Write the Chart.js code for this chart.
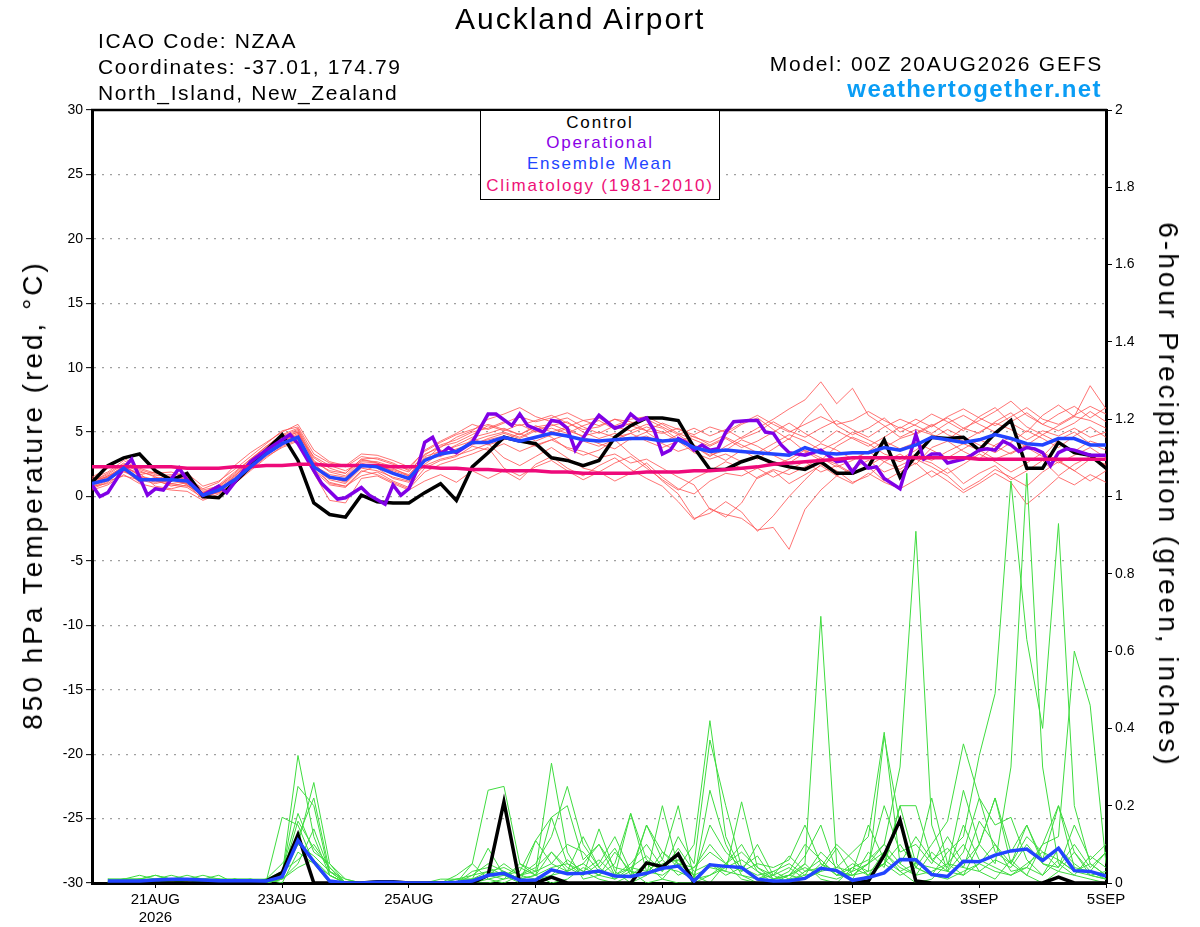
<!DOCTYPE html>
<html>
<head>
<meta charset="utf-8">
<script src="https://cdn.jsdelivr.net/npm/chart.js@4.4.1/dist/chart.umd.min.js"></script>
<style>
body{margin:0;background:#fff;}
#wrap{position:relative;width:1200px;height:927px;font-family:"Liberation Sans",Arial,sans-serif;color:#000;}
#c{position:absolute;left:0;top:0;}
.t{position:absolute;white-space:nowrap;line-height:1;}
.hdr{font-size:21px;letter-spacing:1.6px;left:98px;}
#legend{position:absolute;left:480px;top:110px;width:238px;height:88px;border:1.5px solid #000;background:#fff;}
#legend div{position:absolute;left:0;width:238px;text-align:center;font-size:17px;letter-spacing:1.8px;line-height:1;}
.ax{position:absolute;font-size:28px;letter-spacing:3px;white-space:nowrap;line-height:1;}
</style>
</head>
<body>
<div id="wrap">
<canvas id="c" width="1200" height="927"></canvas>
<div class="t" style="left:455px;top:4px;font-size:30px;letter-spacing:2px;">Auckland Airport</div>
<div class="t hdr" style="top:30px;">ICAO Code: NZAA</div>
<div class="t hdr" style="top:56px;">Coordinates: -37.01, 174.79</div>
<div class="t hdr" style="top:82px;">North_Island, New_Zealand</div>
<div class="t" style="right:97px;top:53px;font-size:21px;letter-spacing:1.75px;">Model: 00Z 20AUG2026 GEFS</div>
<div class="t" style="right:98px;top:77px;font-size:24px;letter-spacing:1.4px;font-weight:bold;color:#0a9df5;">weathertogether.net</div>
<div id="legend">
<div style="top:3px;color:#000;">Control</div>
<div style="top:23px;color:#8a00e6;">Operational</div>
<div style="top:44px;color:#2244ff;">Ensemble Mean</div>
<div style="top:66px;color:#ee1177;">Climatology (1981-2010)</div>
</div>
<div class="ax" style="left:33px;top:495px;transform:translate(-50%,-50%) rotate(-90deg);">850 hPa Temperature (red, °C)</div>
<div class="ax" style="left:1168px;top:495px;transform:translate(-50%,-50%) rotate(90deg);">6-hour Precipitation (green, inches)</div>
</div>
<script>
// time axis: hours after 00Z 20AUG2026, 6-hourly steps
const tickHours = [24, 72, 120, 168, 216, 288, 336, 384]
const tickLabels = [["21AUG", "2026"], "23AUG", "25AUG", "27AUG", "29AUG", "1SEP", "3SEP", "5SEP"]

// 850 hPa temperature (C), 6-hourly, 65 values
const controlTemp = [
1.1,2.4,3.0,3.3,2.0,1.3,1.8,0.0,-0.1,1.1,2.3,3.6,4.8,
2.8,-0.5,-1.4,-1.6,0.1,-0.4,-0.5,-0.5,0.3,1.0,-0.3,2.3,3.4,
4.6,4.3,4.1,3.0,2.8,2.4,2.8,4.6,5.5,6.1,6.1,5.9,3.8,
2.1,2.1,2.7,3.1,2.6,2.3,2.1,2.7,1.8,1.8,2.3,4.4,1.5,
3.2,4.6,4.5,4.6,3.6,4.9,5.9,2.2,2.2,4.2,3.4,3.2,2.2]
const meanTemp = [
1.0,1.3,2.2,1.3,1.3,1.3,1.2,0.1,0.5,1.3,2.3,3.3,4.1,
4.6,2.3,1.5,1.3,2.4,2.3,1.8,1.4,2.8,3.3,3.5,4.2,4.2,
4.6,4.3,4.6,4.9,4.7,4.4,4.3,4.4,4.5,4.5,4.3,4.4,3.8,
3.5,3.6,3.5,3.4,3.3,3.2,3.8,3.4,3.3,3.4,3.4,3.8,3.6,
4.0,4.6,4.4,4.2,4.4,4.8,4.5,4.1,4.0,4.5,4.5,4.0,4.0]
const climTemp = [
2.3,2.3,2.3,2.3,2.3,2.3,2.2,2.2,2.2,2.3,2.3,2.4,2.4,
2.5,2.5,2.4,2.4,2.4,2.4,2.3,2.3,2.3,2.2,2.2,2.1,2.1,
2.0,2.0,2.0,1.9,1.9,1.8,1.8,1.8,1.8,1.9,1.9,1.9,2.0,
2.0,2.1,2.2,2.3,2.5,2.6,2.7,2.8,2.9,3.0,3.0,3.0,3.0,
3.0,3.0,3.0,3.0,2.9,2.9,2.9,2.9,2.9,2.9,2.9,2.9,2.9]

// operational run is 3-hourly at the vertices
const opHours = [0,3,6,12,15,18,21,24,27,33,
36,42,48,51,60,66,75,78,84,87,
93,96,102,105,111,114,117,120,123,126,
129,132,135,138,144,150,153,159,162,165,
171,174,177,180,183,189,192,198,201,204,
207,210,213,216,219,222,225,228,231,234,
237,240,243,249,252,255,258,261,264,270,
276,282,285,288,291,294,297,300,306,312,
315,318,321,324,330,333,336,339,342,345,
348,351,354,357,360,363,366,369,372,378,
384]
const opTemp = [0.9,0.0,0.3,2.2,2.9,1.5,0.1,0.6,0.5,2.2,
1.3,0.1,0.8,0.3,2.7,3.6,4.8,4.1,2.0,1.0,
-0.2,-0.1,0.7,0.1,-0.6,0.9,0.1,0.6,2.0,4.2,
4.6,3.3,3.8,3.4,4.2,6.4,6.4,5.5,6.4,5.5,
5.0,5.9,5.8,5.3,3.6,5.5,6.3,5.3,5.5,6.4,
5.9,6.1,5.1,3.3,3.6,4.5,4.2,3.6,4.0,3.6,
3.7,5.0,5.8,5.9,5.9,5.0,4.9,4.0,3.4,3.2,
3.6,2.7,2.8,1.9,2.8,2.2,2.3,1.4,0.6,4.8,
2.9,3.3,3.3,2.6,2.9,3.2,3.6,3.7,3.6,4.3,
4.0,3.5,3.8,3.7,3.4,2.4,3.4,3.7,3.6,3.2,
3.2]

// ensemble members, temperature
const tempMembers = [
[1.2,1.8,2.6,2.0,1.5,1.0,0.8,0.3,0.9,1.9,2.9,3.9,4.8,
 5.3,3.0,2.2,1.8,2.9,3.0,2.6,2.0,3.2,4.0,4.4,5.0,5.3,
 5.8,5.5,5.9,6.3,5.7,5.2,5.4,6.0,5.8,5.1,4.9,5.3,4.6,
 4.2,4.8,5.6,6.1,5.2,4.4,6.0,7.2,5.5,4.8,5.3,6.1,5.0,
 5.6,6.4,5.8,5.1,6.2,6.9,5.7,5.0,6.3,7.1,6.2,8.6,6.8],
[0.8,1.0,1.9,1.5,1.1,1.4,0.9,0.0,0.3,1.0,2.0,3.0,3.9,
 4.4,2.5,1.0,0.8,1.6,1.9,1.2,0.7,2.2,2.8,3.1,3.9,3.6,
 4.1,3.5,4.0,4.4,3.8,3.5,3.0,3.3,2.6,2.9,2.2,1.5,0.9,
 -1.0,-1.4,-1.7,-2.6,-2.4,-4.1,-1.0,0.5,1.6,2.2,2.8,1.9,2.4,
 3.0,2.6,1.8,2.5,3.3,2.7,1.9,2.6,3.4,2.8,2.0,2.9,2.5],
[1.5,2.2,3.0,2.2,1.8,1.9,1.5,0.6,1.1,2.4,3.4,4.2,5.0,
 5.6,3.6,2.7,2.4,3.3,3.2,2.8,2.3,3.5,4.2,4.8,5.2,5.6,
 5.2,4.8,5.5,5.0,5.4,5.9,6.1,5.4,5.1,5.6,5.3,4.4,3.9,
 3.1,3.9,4.6,5.3,6.0,6.8,7.5,8.9,7.2,8.4,6.3,5.5,4.6,
 5.2,4.8,4.4,5.3,4.9,5.8,6.5,5.4,4.8,5.5,6.2,5.9,5.3],
[0.6,1.1,2.3,1.8,0.8,0.6,0.9,-0.2,0.4,1.6,2.6,3.6,4.5,
 5.0,2.0,0.9,0.7,1.9,2.4,2.0,1.6,3.0,3.1,3.7,4.0,4.5,
 4.9,4.5,5.1,4.6,3.7,3.2,3.6,4.4,3.3,2.4,1.2,0.2,-1.7,
 -1.3,-0.4,-1.2,-2.7,-1.5,0.0,1.3,2.5,2.0,1.1,1.6,2.7,3.3,
 2.5,3.8,4.3,3.5,2.9,4.0,4.6,3.8,3.1,4.4,5.0,4.1,3.6],
[1.1,1.6,2.1,1.1,1.5,1.2,1.6,0.4,0.6,1.5,2.5,3.5,4.3,
 4.9,2.4,1.7,1.5,2.6,2.2,1.4,1.1,2.7,3.6,3.3,4.5,4.0,
 4.4,4.9,4.3,4.8,5.3,4.6,4.1,3.7,4.5,5.0,4.2,4.8,4.0,
 3.4,2.8,3.6,2.9,3.7,4.5,3.5,2.8,3.9,4.6,4.1,3.3,2.9,
 3.6,4.5,5.2,4.6,4.0,3.4,4.2,5.1,4.5,3.8,4.7,5.4,4.6],
[1.3,1.5,2.4,1.6,1.3,0.8,1.1,0.2,0.8,1.7,2.8,3.9,4.7,
 5.2,2.8,1.9,1.6,2.8,2.7,2.3,1.9,3.3,3.8,4.6,5.1,6.0,
 6.4,6.9,6.2,5.8,6.1,5.4,4.9,5.5,6.0,6.2,5.6,4.9,4.4,
 3.9,4.5,3.8,4.3,5.0,5.7,4.9,4.2,5.1,4.5,3.9,4.6,5.4,
 4.8,5.5,6.1,5.3,5.9,6.6,7.4,6.3,5.6,6.4,7.0,6.1,6.9],
[0.7,1.2,1.6,1.3,1.0,1.3,1.0,0.1,0.3,1.3,2.2,3.2,4.0,
 4.5,2.1,1.1,0.8,2.0,1.7,1.1,0.6,1.9,2.5,2.9,3.3,3.8,
 2.2,1.6,2.3,2.8,2.0,1.3,1.9,1.2,1.8,2.6,1.5,0.6,0.2,
 1.2,1.8,1.6,2.2,1.5,2.1,2.7,1.9,2.4,1.7,2.3,1.2,1.9,
 2.6,1.5,2.2,1.0,1.8,2.4,1.3,2.0,2.8,1.6,2.5,3.1,2.4],
[0.9,1.4,2.0,1.2,1.4,1.6,1.3,0.3,0.6,1.4,2.4,3.3,4.2,
 4.8,3.1,2.4,2.0,2.7,2.6,1.9,1.4,2.5,3.4,4.0,4.6,4.9,
 5.3,4.8,5.4,5.6,5.1,4.7,5.0,4.6,4.9,5.4,5.0,4.3,4.7,
 4.0,4.6,4.0,3.4,4.1,4.8,4.3,3.6,4.2,5.0,4.4,3.8,4.5,
 4.9,5.6,4.8,4.3,5.0,5.7,5.2,4.4,5.1,4.7,5.3,4.6,5.0],
[1.0,1.5,2.2,1.4,1.2,0.9,0.7,-0.1,0.5,1.2,2.3,3.4,4.4,
 4.7,2.3,1.3,1.0,2.2,2.0,1.5,1.2,2.4,2.9,3.2,3.6,4.1,
 3.0,2.4,3.1,3.8,3.0,2.2,1.9,2.6,3.1,2.2,1.3,0.5,1.4,
 2.0,2.7,2.2,1.4,2.0,1.0,1.7,2.4,1.6,1.0,1.8,1.1,0.6,
 1.3,2.0,1.2,0.3,1.0,1.8,1.1,-0.6,0.4,1.5,0.9,1.7,1.1],
[1.4,1.9,2.8,2.1,1.7,1.5,1.4,0.5,0.8,1.8,2.9,3.8,4.6,
 5.1,2.6,1.4,1.2,2.5,2.3,2.1,1.7,3.1,3.5,3.9,4.3,4.7,
 5.0,4.6,5.2,5.5,5.8,5.0,4.5,4.9,4.4,4.7,4.1,3.5,3.9,
 3.2,3.6,4.4,3.9,3.2,2.6,3.4,4.1,3.6,2.9,3.5,4.3,3.7,
 4.2,3.6,3.0,3.7,4.4,3.9,3.3,4.0,4.8,4.2,3.5,4.3,3.9],
[0.5,0.9,1.7,1.0,0.7,0.5,0.4,-0.3,0.2,1.1,2.1,3.1,3.8,
 4.3,1.8,-0.3,-0.5,1.4,1.6,1.0,0.5,1.2,1.7,1.1,2.0,1.4,
 2.0,1.3,2.5,3.1,2.2,1.6,2.4,3.0,2.1,1.4,0.8,-0.4,-1.8,
 -0.9,-1.6,-0.5,1.5,2.1,1.7,2.3,3.0,2.5,1.8,2.4,3.1,2.7,
 3.3,2.8,3.5,4.1,3.6,2.9,3.4,4.0,3.3,2.6,3.2,3.8,3.0],
[1.2,1.7,2.5,1.9,1.6,1.7,1.8,0.8,1.2,2.1,3.1,4.1,5.1,
 5.4,3.3,2.6,2.3,3.1,2.9,2.5,2.1,3.6,4.3,4.9,5.6,5.2,
 5.7,6.2,5.8,6.1,6.5,5.9,5.5,6.0,5.5,5.1,5.7,5.2,4.8,
 5.4,5.0,5.7,6.3,5.6,5.0,5.6,6.2,5.6,5.9,6.6,5.9,5.3,
 6.0,5.4,6.2,6.8,6.1,5.5,6.2,6.9,6.0,5.6,6.3,7.0,6.4],
[0.8,1.3,2.0,1.5,1.3,1.0,1.2,0.0,0.4,1.4,2.4,3.3,4.3,
 4.6,2.2,1.5,1.1,2.3,2.4,1.8,1.3,2.9,3.3,3.6,4.1,4.4,
 4.7,4.3,3.9,4.4,4.8,4.3,3.9,4.4,4.9,4.3,3.8,4.3,3.4,
 2.9,3.3,2.7,3.1,2.4,2.9,3.6,3.0,2.3,2.8,3.5,2.7,2.1,
 2.9,2.3,1.6,0.5,1.2,2.1,1.5,0.8,1.9,2.7,2.0,1.2,2.0],
[1.0,1.6,2.3,1.7,1.9,1.4,1.0,0.2,0.7,1.6,2.7,3.7,4.5,
 5.0,2.7,2.0,1.8,2.9,2.6,2.2,1.6,2.8,3.9,4.2,4.8,5.5,
 5.1,5.6,5.0,5.3,4.9,5.5,5.9,5.2,5.7,6.0,5.4,4.8,5.3,
 4.7,5.2,4.5,5.0,5.8,5.1,4.6,5.3,5.9,5.2,4.6,5.4,6.0,
 5.5,4.9,5.7,6.3,5.6,5.0,5.8,6.5,5.6,5.1,5.7,6.6,5.8]
]

// 6-hour precipitation (inches); first step has no accumulation
const controlPrecip = [
null,0,0,0,0,0,0,0,0,0,0,0.005,0.027,
0.125,0,0,0,0,0.003,0.003,0,0,0,0,0,0.02,
0.21,0,0,0.015,0,0,0,0,0,0.052,0.042,0.075,0,
0,0,0,0,0,0,0,0,0,0,0.005,0.072,0.163,
0.005,0,0,0,0,0,0,0,0,0.015,0,0,0]
const meanPrecip = [
null,0.005,0.005,0.005,0.008,0.01,0.01,0.008,0.006,0.006,0.006,0.005,0.016,
0.11,0.055,0.005,0,0,0.002,0.002,0,0,0,0.002,0.005,0.02,
0.025,0.007,0.008,0.034,0.024,0.025,0.031,0.018,0.017,0.025,0.038,0.044,0.005,
0.047,0.043,0.04,0.01,0.005,0.006,0.012,0.038,0.032,0.007,0.014,0.026,0.061,
0.06,0.022,0.017,0.056,0.055,0.072,0.083,0.088,0.058,0.09,0.032,0.03,0.018]

const precipMembers = [
[null,0.01,0.01,0,0.005,0.01,0.02,0.01,0,0.01,0.01,0,0.02,
 0.33,0.12,0.02,0,0,0,0,0,0,0,0.01,0.02,0.05,
 0.03,0.01,0,0.02,0.06,0.03,0.01,0,0.02,0.05,0.01,0,0,
 0.02,0.05,0.01,0,0,0.01,0.05,0.69,0.05,0,0.02,0.08,0.03,
 0,0.01,0.05,0.1,0.03,0.01,0.06,0.02,0,0.03,0.08,0.02,0.01],
[null,0,0.01,0.02,0.01,0,0.01,0.005,0.01,0,0,0.01,0.05,
 0.1,0.26,0.05,0,0,0,0,0,0,0,0,0.05,0.24,
 0.25,0.05,0.02,0,0.01,0.04,0.02,0.08,0.03,0,0.01,0.06,0.02,
 0,0.05,0.1,0.03,0,0.02,0.05,0.01,0,0.04,0.02,0.05,0.1,
 0.04,0.02,0.08,0.12,0.33,0.49,1.04,0.63,0.4,0.93,0.2,0.05,0.02],
[null,0.005,0,0.01,0.02,0.01,0.01,0,0,0.01,0,0.005,0.17,
 0.15,0.05,0,0,0,0,0,0,0,0,0,0.01,0.09,
 0.02,0,0.11,0.17,0.05,0.02,0.14,0.03,0,0.02,0.2,0.04,0.01,
 0.24,0.1,0.02,0,0.01,0.02,0.07,0.15,0.03,0.01,0.08,0.04,0.2,
 0.05,0.22,0.05,0.02,0.1,0.05,0.3,1.06,0.3,0.05,0.02,0.07,0.04],
[null,0,0,0.005,0.01,0.02,0.01,0.01,0.02,0,0,0,0.02,
 0.25,0.2,0.02,0,0,0,0,0,0,0,0.01,0.01,0.02,
 0.01,0.05,0.03,0.31,0.08,0.01,0.02,0.05,0.18,0.03,0.06,0.2,0.01,
 0.05,0.03,0.21,0.04,0.01,0.02,0.01,0.03,0.09,0.02,0.05,0.1,0.3,
 0.91,0.15,0.03,0.02,0.05,0.1,0.03,0.04,0.1,0.12,0.6,0.46,0.05],
[null,0.01,0.01,0,0,0.005,0.005,0.01,0.01,0.005,0,0.01,0.03,
 0.18,0.08,0.05,0.01,0,0,0,0,0,0,0,0.02,0.03,
 0.04,0.02,0.05,0.12,0.25,0.1,0.04,0.01,0.03,0.15,0.08,0.04,0.1,
 0.42,0.12,0.03,0.1,0.02,0,0.03,0.06,0.02,0.05,0.03,0.38,0.15,
 0.04,0.1,0.16,0.36,0.22,0.08,0.05,0.15,0.06,0.2,0.08,0.03,0.01],
[null,0,0,0.01,0.005,0.01,0.01,0.02,0.01,0.01,0.005,0,0.01,
 0.12,0.22,0.03,0,0,0,0,0,0,0,0.02,0.05,0.01,
 0.02,0.01,0.02,0.17,0.2,0.06,0.1,0.02,0.04,0.07,0.03,0.12,0.05,
 0.37,0.2,0.04,0.01,0.03,0.05,0.02,0.08,0.04,0.08,0.12,0.39,0.05,
 0.02,0.08,0.04,0.24,0.1,0.22,0.05,0.02,0.1,0.2,0.04,0.03,0.08],
[null,0.005,0.01,0.01,0,0,0.01,0,0,0.01,0.01,0.005,0.03,
 0.06,0.1,0.04,0,0,0,0,0,0,0,0,0.03,0.04,
 0.02,0.03,0.11,0.05,0.03,0.12,0.04,0.09,0.02,0.15,0.06,0.02,0.04,
 0.1,0.05,0.08,0.04,0.02,0.07,0.03,0.04,0.1,0.06,0.02,0.05,0.2,
 0.2,0.06,0.03,0.08,0.22,0.15,0.17,0.06,0.02,0.09,0.05,0.02,0.03],
[null,0,0.01,0.01,0.01,0,0,0.005,0.01,0,0.01,0.01,0,
 0.08,0.05,0.02,0,0,0,0,0,0,0.01,0.01,0.01,0.02,
 0.05,0.02,0.04,0.08,0.03,0.05,0.1,0.04,0.03,0.02,0.05,0.06,0.02,
 0.15,0.08,0.04,0.07,0.01,0.03,0.1,0.06,0.02,0.02,0.05,0.2,0.08,
 0.1,0.05,0.12,0.05,0.1,0.22,0.08,0.15,0.05,0.04,0.1,0.04,0.08],
[null,0.01,0,0,0.01,0.01,0,0.01,0.005,0.01,0,0,0.01,
 0.05,0.14,0.03,0.01,0,0,0,0,0,0,0,0,0.01,
 0,0.02,0.03,0.05,0.1,0.08,0.03,0.02,0.18,0.06,0.03,0.09,0.03,
 0.05,0.02,0.04,0.02,0.03,0.01,0.02,0.03,0.04,0.03,0.15,0.06,0.03,
 0.05,0.04,0.03,0.15,0.06,0.04,0.02,0.05,0.08,0.06,0.03,0.02,0.01],
[null,0,0.005,0.01,0.02,0.01,0.01,0,0,0.005,0.01,0,0.02,
 0.1,0.07,0.03,0,0,0,0,0,0,0,0,0.01,0.02,
 0.03,0.01,0.02,0.04,0.05,0.03,0.06,0.02,0.05,0.1,0.04,0.03,0.01,
 0.02,0.04,0.06,0.03,0.01,0.02,0.04,0.02,0.01,0.03,0.05,0.08,0.04,
 0.02,0.03,0.05,0.04,0.03,0.06,0.04,0.1,0.05,0.03,0.02,0.01,0],
[null,0,0,0,0.005,0.01,0.01,0.01,0.01,0,0,0,0.01,
 0.04,0.06,0.02,0,0,0,0,0,0,0,0,0,0,
 0.01,0.02,0.01,0.02,0.03,0.05,0.02,0.01,0.04,0.03,0.02,0.05,0.02,
 0.04,0.03,0.02,0.01,0.02,0.04,0.01,0.05,0.03,0.02,0.03,0.05,0.02,
 0.04,0.02,0.01,0.03,0.05,0.03,0.02,0.04,0.02,0.06,0.03,0.05,0.02],
[null,0.005,0.01,0.01,0,0.01,0,0,0.01,0.01,0.005,0.01,0.02,
 0.16,0.09,0.04,0,0,0,0,0,0,0,0,0.01,0.03,
 0.02,0.04,0.02,0.08,0.04,0.02,0.05,0.12,0.03,0.02,0.08,0.05,0.04,
 0.08,0.05,0.03,0.05,0.04,0.06,0.15,0.05,0.02,0.04,0.06,0.1,0.05,
 0.12,0.06,0.09,0.04,0.16,0.1,0.05,0.12,0.08,0.04,0.15,0.06,0.1]
]

const FONT = '"Liberation Sans", Arial, sans-serif'
Chart.defaults.font.family = FONT
Chart.defaults.color = "#000"

function sixHourly(vals) {
    return vals.map((v, i) => ({x: i * 6, y: v}))
}

const datasets = []
tempMembers.forEach(m => datasets.push({
    data: sixHourly(m), yAxisID: "yT", borderColor: "rgba(255,80,80,0.8)", borderWidth: 1, order: 6
}))
precipMembers.forEach(m => datasets.push({
    data: sixHourly(m), yAxisID: "yP", borderColor: "#3fdc3f", borderWidth: 1, order: 5
}))
datasets.push({data: sixHourly(controlTemp), yAxisID: "yT", borderColor: "#000", borderWidth: 3.5, order: 3})
datasets.push({data: sixHourly(controlPrecip), yAxisID: "yP", borderColor: "#000", borderWidth: 3.5, order: 3})
datasets.push({data: opHours.map((h, i) => ({x: h, y: opTemp[i]})), yAxisID: "yT", borderColor: "#8000e6", borderWidth: 3.5, order: 2})
datasets.push({data: sixHourly(climTemp), yAxisID: "yT", borderColor: "#ee0a7a", borderWidth: 3.5, order: 1})
datasets.push({data: sixHourly(meanTemp), yAxisID: "yT", borderColor: "#2244ff", borderWidth: 3.5, order: 0})
datasets.push({data: sixHourly(meanPrecip), yAxisID: "yP", borderColor: "#2244ff", borderWidth: 3.5, order: 0})

// top edge of the plot frame
const frame = {
    id: "frame",
    afterDraw(chart) {
        const {ctx, chartArea: a} = chart
        ctx.save()
        ctx.strokeStyle = "#000"
        ctx.lineWidth = 2.5
        ctx.beginPath()
        ctx.moveTo(a.left - 1, a.top)
        ctx.lineTo(a.right + 1, a.top)
        ctx.stroke()
        ctx.restore()
    }
}

new Chart(document.getElementById("c"), {
    type: "line",
    data: {datasets: datasets},
    plugins: [frame],
    options: {
        responsive: false,
        animation: false,
        layout: {padding: {top: 110, left: 0, right: 0, bottom: 0}},
        elements: {point: {radius: 0}, line: {tension: 0}},
        plugins: {legend: {display: false}, tooltip: {enabled: false}},
        scales: {
            x: {
                type: "linear", min: 0, max: 384,
                afterBuildTicks: s => { s.ticks = tickHours.map(v => ({value: v})) },
                afterFit: s => { s.height = 44 },
                ticks: {autoSkip: false, maxRotation: 0, padding: 3, font: {size: 15},
                    callback: (v, i) => tickLabels[i]},
                grid: {drawOnChartArea: false, tickLength: 5, color: "#000"},
                border: {color: "#000", width: 3}
            },
            yT: {
                position: "left", min: -30, max: 30,
                afterFit: s => { s.width = 92 },
                ticks: {stepSize: 5, padding: 3, font: {size: 14}},
                grid: {color: "#a0a0a0", lineWidth: 1.3, tickLength: 6, tickColor: "#000", tickWidth: 1},
                border: {color: "#000", width: 3, dash: [2, 6]}
            },
            yP: {
                position: "right", min: 0, max: 2,
                afterFit: s => { s.width = 94 },
                ticks: {stepSize: 0.2, padding: 3, font: {size: 14},
                    callback: v => String(Math.round(v * 10) / 10)},
                grid: {drawOnChartArea: false, tickLength: 6, color: "#000"},
                border: {color: "#000", width: 3}
            }
        }
    }
})
</script>
</body>
</html>
